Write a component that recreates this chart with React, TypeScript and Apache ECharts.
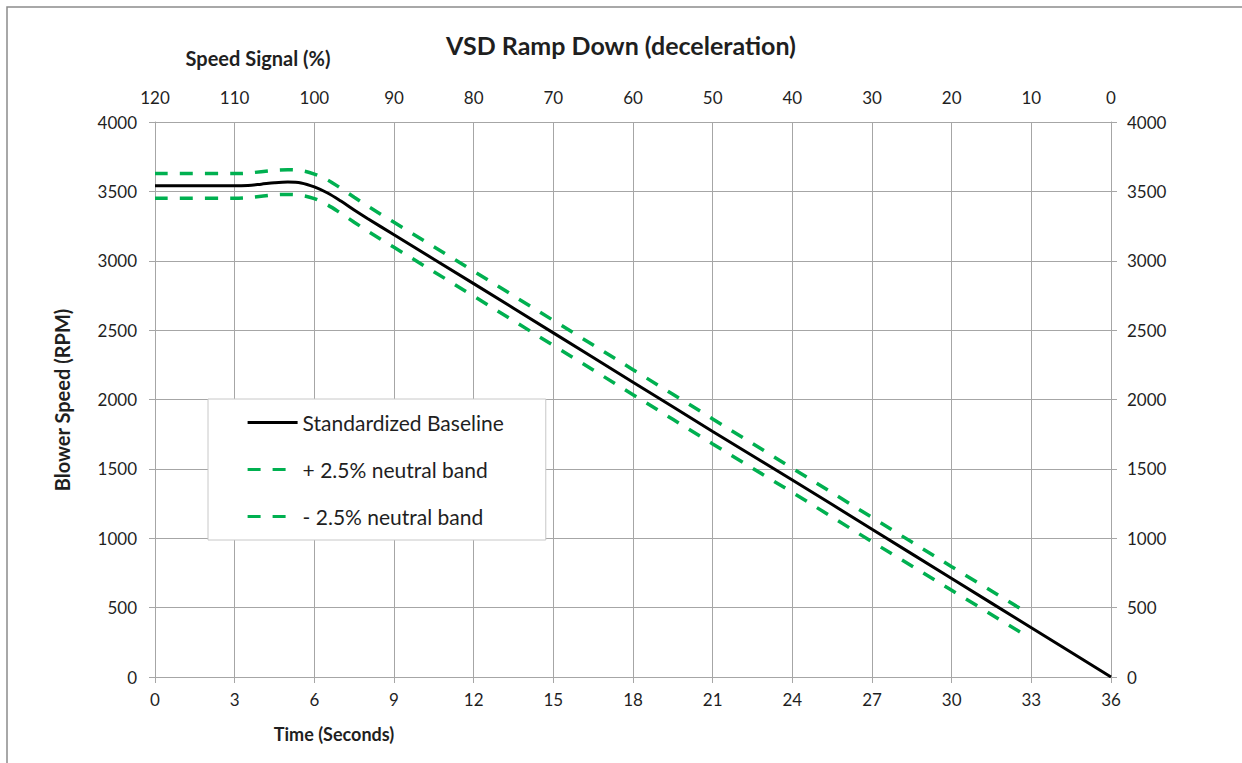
import React, { useEffect, useRef } from "react";
import * as echarts from "echarts";

// Time (s) at which readings were taken
const baselineTime = [0, 3, 3.5, 4, 4.5, 5, 5.5, 6, 6.5, 7, 7.5, 8, 9, 12, 15, 18, 21, 24, 27, 30, 33, 36];
const baselineRpm = [3540, 3540, 3543, 3552, 3562, 3567, 3561, 3532, 3488, 3430, 3366, 3305, 3187, 2835, 2480, 2125, 1770, 1420, 1065, 710, 355, 0];

const bandTime = [0, 3, 3.5, 4, 4.5, 5, 5.5, 6, 6.5, 7, 7.5, 8, 9, 12, 15, 18, 21, 24, 27, 30, 32.7];
const upperRpm = [3628, 3628, 3632, 3642, 3652, 3656, 3650, 3625, 3582, 3522, 3458, 3395, 3277, 2925, 2570, 2215, 1860, 1505, 1150, 795, 480];
const lowerRpm = [3451, 3451, 3455, 3465, 3475, 3478, 3472, 3448, 3402, 3342, 3278, 3215, 3097, 2745, 2390, 2035, 1680, 1330, 975, 625, 310];

const seriesNames = ["Standardized Baseline", "+ 2.5% neutral band", "- 2.5% neutral band"];

const FONT = "Lato, 'Noto Sans', sans-serif";
const GRID = "#a6a6a6";
const TXT = "#1f1f1f";
const GREEN = "#00b050";

const zip = (xs: number[], ys: number[]) => xs.map((x, i) => [x, ys[i]]);

export default function App() {
  const ref = useRef<HTMLDivElement>(null);
  useEffect(() => {
    if (!ref.current) return;
    const chart = echarts.init(ref.current, undefined, { renderer: "svg" });
    const axisCommon = {
      axisLine: { show: true, lineStyle: { color: GRID, width: 1 } },
      axisTick: { show: true, length: 6, lineStyle: { color: GRID, width: 1 } },
      axisLabel: { color: TXT, fontSize: 17, fontFamily: FONT, formatter: (v: number) => String(v) },
    };
    chart.setOption({
      animation: false,
      backgroundColor: "#ffffff",
      grid: { left: 155, right: 131, top: 122, bottom: 86, containLabel: false },
      title: {
        text: "VSD Ramp Down (deceleration)",
        left: "center",
        top: 27,
        textStyle: { fontFamily: FONT, fontSize: 25, fontWeight: "bold", color: TXT },
      },
      xAxis: [
        {
          type: "value",
          position: "bottom",
          min: 0,
          max: 36,
          interval: 3,
          ...axisCommon,
          axisLabel: { ...axisCommon.axisLabel, margin: 14 },
          splitLine: { show: true, lineStyle: { color: GRID, width: 1 } },
        },
        {
          type: "value",
          position: "top",
          min: 0,
          max: 120,
          interval: 10,
          inverse: true,
          ...axisCommon,
          axisLabel: { ...axisCommon.axisLabel, margin: 16 },
          splitLine: { show: false },
        },
      ],
      yAxis: [
        {
          type: "value",
          position: "left",
          min: 0,
          max: 4000,
          interval: 500,
          ...axisCommon,
          axisLabel: { ...axisCommon.axisLabel, margin: 18 },
          splitLine: { show: true, lineStyle: { color: GRID, width: 1 } },
        },
        {
          type: "value",
          position: "right",
          min: 0,
          max: 4000,
          interval: 500,
          ...axisCommon,
          axisLabel: { ...axisCommon.axisLabel, margin: 16 },
          splitLine: { show: false },
        },
      ],
      legend: {
        orient: "vertical",
        left: 208,
        top: 399,
        data: seriesNames,
        backgroundColor: "#ffffff",
        borderColor: "#c8c8c8",
        borderWidth: 1,
        padding: [12, 42, 12, 38],
        itemWidth: 50,
        itemHeight: 14,
        itemGap: 24,
        itemStyle: { opacity: 0 },
        lineStyle: { width: 3.2 },
        textStyle: { fontFamily: FONT, fontSize: 21, color: TXT, lineHeight: 23 },
      },
      graphic: [
        {
          type: "rect",
          shape: { x: 7, y: 7, width: 1260, height: 800 },
          style: { fill: "none", stroke: "#8c8c8c", lineWidth: 1.5 },
          silent: true,
        },
        {
          type: "text",
          x: 258,
          y: 58,
          style: { text: "Speed Signal (%)", fontFamily: FONT, fontSize: 20, fontWeight: "bold", fill: TXT, align: "center", verticalAlign: "middle" },
        },
        {
          type: "text",
          x: 334,
          y: 734,
          style: { text: "Time (Seconds)", fontFamily: FONT, fontSize: 18, fontWeight: "bold", fill: TXT, align: "center", verticalAlign: "middle" },
        },
        {
          type: "text",
          x: 62,
          y: 400,
          rotation: Math.PI / 2,
          style: { text: "Blower Speed (RPM)", fontFamily: FONT, fontSize: 20, fontWeight: "bold", fill: TXT, align: "center", verticalAlign: "middle" },
        },
      ],
      series: [
        {
          name: seriesNames[0],
          type: "line",
          xAxisIndex: 0,
          yAxisIndex: 0,
          data: zip(baselineTime, baselineRpm),
          symbol: "none",
          smooth: 0.35,
          color: "#000000",
          lineStyle: { color: "#000000", width: 3 },
          z: 3,
        },
        {
          name: seriesNames[1],
          type: "line",
          xAxisIndex: 0,
          yAxisIndex: 0,
          data: zip(bandTime, upperRpm),
          symbol: "none",
          smooth: 0.35,
          color: GREEN,
          lineStyle: { color: GREEN, width: 3.5, type: [13, 12] },
          z: 2,
        },
        {
          name: seriesNames[2],
          type: "line",
          xAxisIndex: 0,
          yAxisIndex: 0,
          data: zip(bandTime, lowerRpm),
          symbol: "none",
          smooth: 0.35,
          color: GREEN,
          lineStyle: { color: GREEN, width: 3.5, type: [13, 12] },
          z: 2,
        },
      ],
    });
    return () => chart.dispose();
  }, []);
  return <div ref={ref} style={{ position: "absolute", left: 0, top: 0, width: 1242, height: 763 }} />;
}
